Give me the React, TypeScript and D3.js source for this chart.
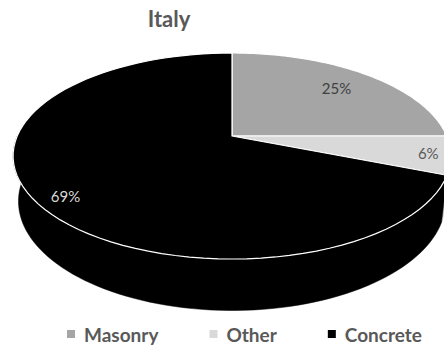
import React, { useEffect, useRef } from 'react';
import * as d3 from 'd3';

const title = 'Italy';
const categories = ['Masonry', 'Other', 'Concrete'];
const values = [25, 6, 69];
const sliceColors = ['#a5a5a5', '#d9d9d9', '#000000'];
const labelColors = ['#404040', '#595959', '#d9d9d9'];

const W = 444;
const H = 345;

// perspective projection parameters (layout)
const CX = 232;
const CY = 136;
const F = 981;
const DIST = 4.568;
const SIN_A = 0.4616;
const COS_A = 0.887;
const THICK = 0.24;

function project(theta: number, k: number, h: number): [number, number] {
  const X = k * Math.sin(theta);
  const Wd = k * Math.cos(theta);
  const xc = X;
  const yc = -Wd * SIN_A - h * COS_A;
  const zc = DIST + Wd * COS_A - h * SIN_A;
  return [CX + (F * xc) / zc, CY + (F * yc) / zc];
}

function arcPoints(a0: number, a1: number, h: number, n = 80): [number, number][] {
  const pts: [number, number][] = [];
  for (let i = 0; i <= n; i++) {
    const a = a0 + ((a1 - a0) * i) / n;
    pts.push(project(a, 1, h));
  }
  return pts;
}

// label placement tweaks (layout, Excel best-fit positions)
const labelRadius = [0.76, 0.9, 0.88];
const labelAngleShift = [0, 0, -0.066];

export default function App() {
  const ref = useRef<SVGSVGElement | null>(null);

  useEffect(() => {
    const svg = d3.select(ref.current);
    svg.selectAll('*').remove();

    const pie = d3.pie<number>().sort(null).value((d) => d);
    const arcs = pie(values);
    const line = d3.line<[number, number]>();
    const total = d3.sum(values);

    const g = svg.append('g');

    // side walls (only the near half is visible)
    arcs.forEach((a, i) => {
      const s0 = Math.max(a.startAngle, Math.PI / 2);
      const s1 = Math.min(a.endAngle, (3 * Math.PI) / 2);
      if (s1 <= s0) return;
      const top = arcPoints(s0, s1, 0);
      const bot = arcPoints(s0, s1, -THICK).reverse();
      g.append('path')
        .attr('d', line([...top, ...bot]) + 'Z')
        .attr('fill', sliceColors[i])
        .attr('stroke', sliceColors[i])
        .attr('stroke-width', 0.5);
    });

    // top faces
    arcs.forEach((a, i) => {
      const pts: [number, number][] = [project(0, 0, 0), ...arcPoints(a.startAngle, a.endAngle, 0)];
      g.append('path')
        .attr('d', line(pts) + 'Z')
        .attr('fill', sliceColors[i])
        .attr('stroke', '#ffffff')
        .attr('stroke-width', 1.2)
        .attr('stroke-linejoin', 'round');
    });

    // data labels
    arcs.forEach((a, i) => {
      const mid = (a.startAngle + a.endAngle) / 2 + labelAngleShift[i];
      const [x, y] = project(mid, labelRadius[i], 0);
      g.append('text')
        .attr('x', x)
        .attr('y', y)
        .attr('text-anchor', 'middle')
        .attr('dominant-baseline', 'central')
        .attr('font-family', 'Lato, "Open Sans", sans-serif')
        .attr('font-size', 15)
        .attr('fill', labelColors[i])
        .text(d3.format('.0%')(values[i] / total));
    });

    // title
    svg.append('text')
      .attr('x', 169)
      .attr('y', 27)
      .attr('text-anchor', 'middle')
      .attr('font-family', 'Lato, "Open Sans", sans-serif')
      .attr('font-weight', 'bold')
      .attr('font-size', 22)
      .attr('fill', '#595959')
      .text(title);

    // legend
    const lg = svg.append('g');
    const items = categories.map((c, i) => {
      const ig = lg.append('g');
      ig.append('rect').attr('width', 8).attr('height', 8).attr('y', -4).attr('fill', sliceColors[i]);
      const t = ig.append('text')
        .attr('x', 17)
        .attr('y', 0)
        .attr('dominant-baseline', 'central')
        .attr('font-family', 'Lato, "Open Sans", sans-serif')
        .attr('font-weight', 'bold')
        .attr('font-size', 19)
        .attr('fill', '#595959')
        .text(c);
      const w = 17 + (t.node() as SVGTextElement).getComputedTextLength();
      return { ig, w };
    });
    const left = 67;
    const right = 422;
    const gap = (right - left - d3.sum(items, (d) => d.w)) / (items.length - 1);
    let x = left;
    items.forEach((it) => {
      it.ig.attr('transform', `translate(${x},334)`);
      x += it.w + gap;
    });
  }, []);

  return (
    <div style={{ position: 'fixed', left: 0, top: 0, width: W, height: H, background: '#fff' }}>
      <svg ref={ref} width={W} height={H} style={{ display: 'block' }} />
    </div>
  );
}
